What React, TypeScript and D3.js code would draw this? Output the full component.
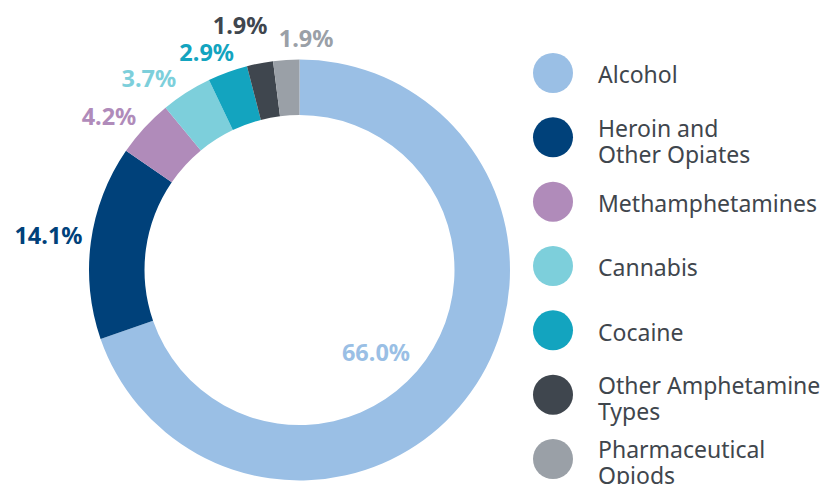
import React, { useEffect, useRef } from 'react'
import * as d3 from 'd3'

// substance shares
const categories = ['Alcohol', 'Heroin and Other Opiates', 'Methamphetamines', 'Cannabis', 'Cocaine', 'Other Amphetamine Types', 'Pharmaceutical Opiods']
const values = [66.0, 14.1, 4.2, 3.7, 2.9, 1.9, 1.9]
const valueLabels = ['66.0%', '14.1%', '4.2%', '3.7%', '2.9%', '1.9%', '1.9%']
const legendLines = [['Alcohol'], ['Heroin and', 'Other Opiates'], ['Methamphetamines'], ['Cannabis'], ['Cocaine'], ['Other Amphetamine', 'Types'], ['Pharmaceutical', 'Opiods']]
const colors = ['#9ABFE5', '#00417A', '#B08BBA', '#7DCFDB', '#13A4BF', '#3F464E', '#9AA0A7']

// nudges for the value labels so they sit where the original put them
const labelNudge: [number, number][] = [[0, 0], [5, -4], [2, -2], [-3, -3], [11, -7], [10, -24], [48, -8]]

const App = () => {
  const ref = useRef<SVGSVGElement>(null)

  useEffect(() => {
    const svg = d3.select(ref.current)
    svg.selectAll('*').remove()

    const width = 827
    const height = 484
    const cx = 299.5
    const cy = 270
    const outerR = 210.5
    const innerR = 155

    const data = categories.map((c, i) => ({ name: c, value: values[i], label: valueLabels[i], color: colors[i], i }))

    const pie = d3.pie<any>().value(d => d.value).sort(null)
    const arcs = pie(data)
    const arc = d3.arc<any>().innerRadius(innerR).outerRadius(outerR)
    const labelArc = d3.arc<any>().innerRadius(224).outerRadius(224)

    const g = svg.append('g').attr('transform', `translate(${cx},${cy})`)

    g.selectAll('.slice')
      .data(arcs)
      .enter()
      .append('path')
      .attr('class', 'slice')
      .attr('d', arc)
      .attr('fill', d => d.data.color)

    // outside labels, except alcohol which sits inside the hole
    g.selectAll('.val')
      .data(arcs)
      .enter()
      .append('text')
      .attr('class', 'val')
      .attr('x', d => {
        if (d.data.i === 0) return 76.5
        return labelArc.centroid(d)[0] + labelNudge[d.data.i][0]
      })
      .attr('y', d => {
        if (d.data.i === 0) return 83
        return labelArc.centroid(d)[1] + labelNudge[d.data.i][1]
      })
      .attr('dy', '0.36em')
      .attr('text-anchor', d => (d.data.i === 0 ? 'middle' : 'end'))
      .attr('font-family', 'Noto Sans')
      .attr('font-weight', 700)
      .attr('font-size', 23.5)
      .attr('fill', d => d.data.color)
      .text(d => d.data.label)

    // legend
    const ly = d3.scaleLinear().domain([0, categories.length - 1]).range([73, 459])
    const legend = svg.append('g')

    const item = legend.selectAll('.item')
      .data(data)
      .enter()
      .append('g')
      .attr('class', 'item')
      .attr('transform', d => `translate(553,${ly(d.i)})`)

    item.append('circle')
      .attr('r', 20)
      .attr('fill', d => d.color)

    item.append('text')
      .attr('x', 45)
      .attr('font-family', 'Noto Sans')
      .attr('font-size', 23)
      .attr('fill', '#3F464D')
      .each(function (d) {
        const lines = legendLines[d.i]
        const t = d3.select(this)
        const start = lines.length === 1 ? 2 : -9
        lines.forEach((l, k) => {
          t.append('tspan')
            .attr('x', 45)
            .attr('y', start + k * 26)
            .attr('dy', '0.36em')
            .text(l)
        })
      })

    svg.attr('width', width).attr('height', height)
  }, [])

  return (
    <svg ref={ref} width={827} height={484} style={{ position: 'absolute', left: 0, top: 0, background: '#fff' }} />
  )
}

export default App
